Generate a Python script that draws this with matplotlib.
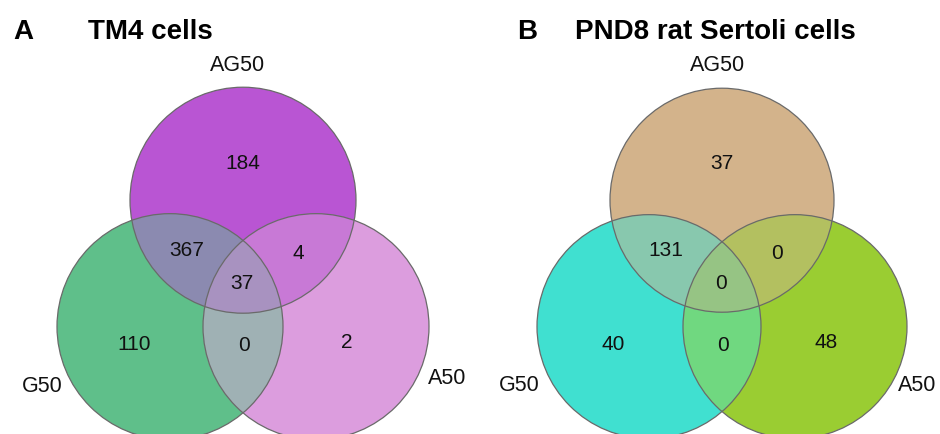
"""Two three-set Venn diagrams: TM4 cells and PND8 rat Sertoli cells.
"""
import matplotlib
matplotlib.use('Agg')
import matplotlib.pyplot as plt
import numpy as np
from matplotlib.patches import Circle, Polygon

plt.rcParams['font.family'] = ['Liberation Sans', 'DejaVu Sans']

# Data
set_names = ['AG50', 'G50', 'A50']
region_keys = ['AG', 'G', 'A', 'AG_G', 'AG_A', 'G_A', 'AG_G_A']
counts_tm4 = [184, 110, 2, 367, 4, 0, 37]
counts_sertoli = [37, 40, 48, 131, 0, 0, 0]
panel_letters = ['A', 'B']
panel_titles = ['TM4 cells', 'PND8 rat Sertoli cells']

# Region colours per panel
colors_tm4 = {
    'AG': '#b955d3', 'G': '#5fbf8a', 'A': '#dc9dde',
    'AG_G': '#8b8ab0', 'AG_A': '#c879d6', 'G_A': '#9fb1b4',
    'AG_G_A': '#a892c0',
}
colors_sertoli = {
    'AG': '#d3b38b', 'G': '#40e0d0', 'A': '#9acd32',
    'AG_G': '#88c8ae', 'AG_A': '#b3c060', 'G_A': '#70d880',
    'AG_G_A': '#96c484',
}

# Layout (pixel units, y down)
panel_centres = [(243, 284.5), (722, 284.5)]
radii = [113, 112]
side = 146  # distance between circle centres

label_offsets = {
    'AG': (0, -121), 'G': (-109, 60), 'A': (104, 58),
    'AG_G': (-56, -34), 'AG_A': (55, -31), 'G_A': (1, 61),
    'AG_G_A': (-1, -1),
}
set_label_offsets = [
    [(-5, -219), (-201, 102), (204, 94)],
    [(-4, -219), (-203, 101), (195, 101)],
]


def circle_centres(cx, cy):
    h = side * np.sqrt(3) / 2
    top = (cx, cy - 2 * h / 3)
    left = (cx - side / 2, cy + h / 3)
    right = (cx + side / 2, cy + h / 3)
    return [top, left, right]


def triple_polygon(centres, r):
    pts = []
    t = np.linspace(0, 2 * np.pi, 1500)
    for (x0, y0) in centres:
        px = x0 + r * np.cos(t)
        py = y0 + r * np.sin(t)
        inside = np.ones_like(px, dtype=bool)
        for (x1, y1) in centres:
            if (x1, y1) == (x0, y0):
                continue
            inside &= (px - x1) ** 2 + (py - y1) ** 2 <= r ** 2 + 1e-6
        pts.append(np.column_stack([px[inside], py[inside]]))
    pts = np.vstack(pts)
    mx, my = np.mean([c[0] for c in centres]), np.mean([c[1] for c in centres])
    order = np.argsort(np.arctan2(pts[:, 1] - my, pts[:, 0] - mx))
    return pts[order]


fig = plt.figure(figsize=(9.4, 4.34), dpi=100)
ax = fig.add_axes([0, 0, 1, 1])
ax.set_xlim(0, 940)
ax.set_ylim(434, 0)
ax.set_aspect('equal')
ax.axis('off')

for p, (counts, colors) in enumerate([(counts_tm4, colors_tm4),
                                      (counts_sertoli, colors_sertoli)]):
    cx, cy = panel_centres[p]
    centres = circle_centres(cx, cy)
    r = radii[p]
    keys = ['AG', 'G', 'A']

    circles = {}
    for k, c in zip(keys, centres):
        ax.add_patch(Circle(c, r, facecolor=colors[k], edgecolor='none', zorder=1))
        circles[k] = c

    # pairwise overlaps
    for pair, (a, b) in {'AG_G': ('AG', 'G'), 'AG_A': ('AG', 'A'),
                         'G_A': ('G', 'A')}.items():
        clip = Circle(circles[a], r, transform=ax.transData)
        patch = Circle(circles[b], r, facecolor=colors[pair],
                       edgecolor='none', zorder=2)
        ax.add_patch(patch)
        patch.set_clip_path(clip)

    # triple overlap
    ax.add_patch(Polygon(triple_polygon(centres, r), closed=True,
                         facecolor=colors['AG_G_A'], edgecolor='none', zorder=3))

    # outlines
    for c in centres:
        ax.add_patch(Circle(c, r, facecolor='none', edgecolor='#6a6a6a',
                            linewidth=0.9, zorder=4))

    # counts
    for key, n in zip(region_keys, counts):
        dx, dy = label_offsets[key]
        ax.text(cx + dx, cy + dy, str(n), ha='center', va='center',
                fontsize=15, color='#111111', zorder=5)

    # set names
    for name, (dx, dy) in zip(set_names, set_label_offsets[p]):
        ax.text(cx + dx, cy + dy, name, ha='center', va='center',
                fontsize=15.5, color='#111111', zorder=5)

# panel titles
ax.text(13, 32, panel_letters[0], fontsize=20, fontweight='bold',
        ha='left', va='center')
ax.text(88, 32, panel_titles[0], fontsize=20, fontweight='bold',
        ha='left', va='center')
ax.text(517, 32, panel_letters[1], fontsize=20, fontweight='bold',
        ha='left', va='center')
ax.text(575, 32, panel_titles[1], fontsize=20, fontweight='bold',
        ha='left', va='center')

fig.savefig('out.png', dpi=100)
